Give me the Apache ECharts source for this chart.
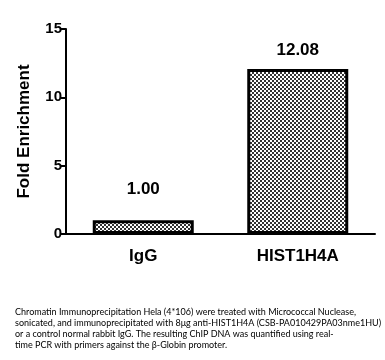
<!DOCTYPE html>
<html>
<head>
<meta charset="utf-8">
<script src="https://cdn.jsdelivr.net/npm/echarts@6/dist/echarts.min.js"></script>
<style>html,body{margin:0;padding:0;background:#fff}#c{width:385px;height:360px}</style>
</head>
<body>
<div id="c"></div>
<script>
var categories = ['IgG', 'HIST1H4A'];
var values = [1.00, 12.08];
var valueLabels = ['1.00', '12.08'];
var yTicks = [0, 5, 10, 15];
var yTitle = 'Fold Enrichment';
var caption = [
  'Chromatin Immunoprecipitation Hela (4*106) were treated with Micrococcal Nuclease,',
  'sonicated, and immunoprecipitated with 8\u03bcg anti-HIST1H4A (CSB-PA010429PA03nme1HU)',
  'or a control normal rabbit IgG. The resulting ChIP DNA was quantified using real-',
  'time PCR with primers against the \u03b2-Globin promoter.'
];

var pc = document.createElement('canvas');
pc.width = 4; pc.height = 4;
var g = pc.getContext('2d');
g.fillStyle = '#ffffff'; g.fillRect(0,0,4,4);
g.fillStyle = '#333333'; g.fillRect(0,0,2,2); g.fillRect(2,2,2,2);

var labelDist = [23, 10];
var chart = echarts.init(document.getElementById('c'), null, {renderer:'canvas'});
var font = 'Liberation Sans, Arial, sans-serif';
chart.setOption({
  animation: false,
  backgroundColor: '#fff',
  grid: {left: 66, right: 10, top: 29, bottom: 126, containLabel: false},
  xAxis: {
    type: 'category', data: categories,
    axisLine: {lineStyle: {color: '#000', width: 2}},
    axisTick: {alignWithLabel: true, length: 6, lineStyle: {color: '#000', width: 2}},
    axisLabel: {color: '#000', fontWeight: 'bold', fontSize: 17, fontFamily: font, margin: 14}
  },
  yAxis: {
    type: 'value', min: yTicks[0], max: yTicks[yTicks.length-1], interval: 5,
    name: yTitle, nameLocation: 'middle', nameRotate: 90, nameGap: 33,
    nameTextStyle: {color: '#000', fontWeight: 'bold', fontSize: 17, fontFamily: font},
    axisLine: {show: true, lineStyle: {color: '#000', width: 2}},
    axisTick: {show: true, length: 5, lineStyle: {color: '#000', width: 2}},
    axisLabel: {color: '#000', fontWeight: 'bold', fontSize: 15, fontFamily: font, margin: 4},
    splitLine: {show: false}
  },
  series: [{
    type: 'bar', barWidth: 101,
    data: values.map(function(v, i){
      return {value: v, label: {show: true, position: 'top', distance: labelDist[i], formatter: valueLabels[i]}};
    }),
    itemStyle: {color: {image: pc, repeat: 'repeat'}, borderColor: '#000', borderWidth: 3},
    label: {color: '#000', fontWeight: 'bold', fontSize: 17, fontFamily: font}
  }],
  graphic: caption.map(function(t, i){
    return {type: 'text', left: 15, top: 308 + i*11,
      style: {text: t, fill: '#000', font: '9px Lato, sans-serif'}};
  })
});
</script>
</body>
</html>
